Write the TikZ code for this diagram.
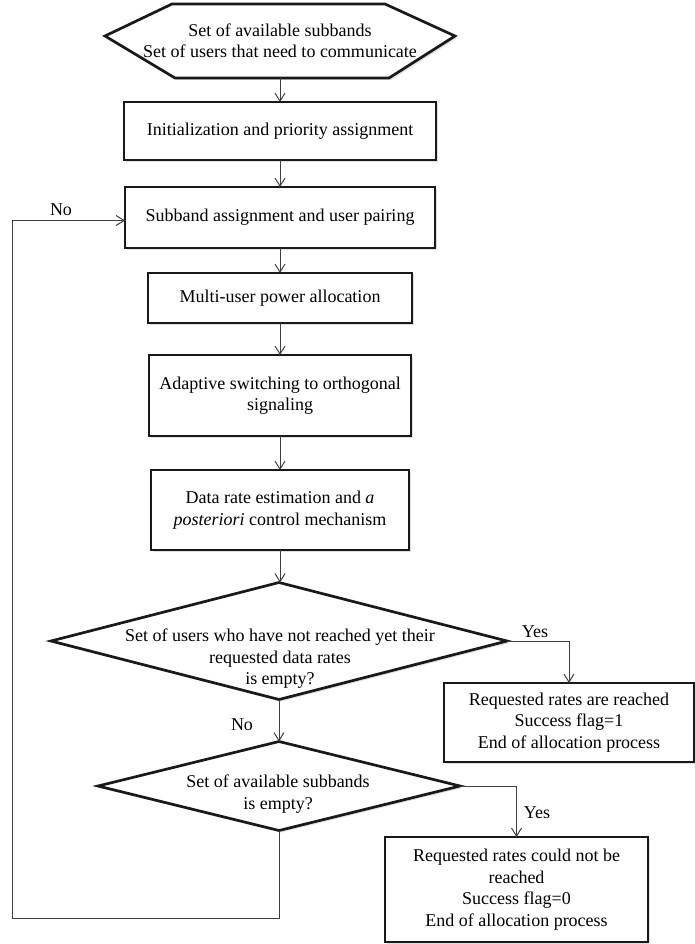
\documentclass[tikz,border=0pt]{standalone}
\usepackage{fontspec}
\setmainfont{Liberation Serif}
\usetikzlibrary{arrows.meta,shadows,backgrounds,shapes.geometric}

\begin{document}
\begin{tikzpicture}[x=1pt,y=-1pt,
  font=\fontsize{18}{21.5}\selectfont,
  every node/.style={inner sep=0pt, outer sep=0pt},
  frame/.style={line width=2.7pt, draw=black!90, fill=white,
    drop shadow={shadow xshift=2pt, shadow yshift=-2pt, opacity=0.25}},
  procbox/.style={frame, rectangle, align=center},
  decision/.style={frame, diamond},
  hexnode/.style={align=center, minimum width=350pt, minimum height=74pt},
  txt/.style={align=center},
  conn/.style={draw=black!75, line width=1pt,
    -{Straight Barb[length=8pt,width=10pt,line width=1pt]}}
]
\useasboundingbox (0,0) rectangle (695,944);

% start hexagon
\node[hexnode] (hex) at (280,41) {Set of available subbands\\Set of users that need to communicate};
\begin{scope}[on background layer]
\draw[frame] ([yshift=5pt]hex.west) -- ([xshift=67pt]hex.north west)
  -- ([xshift=-70pt]hex.north east) -- ([yshift=5pt]hex.east)
  -- ([xshift=-66pt]hex.south east) -- ([xshift=70pt]hex.south west) -- cycle;
\end{scope}

% process boxes
\node[procbox, minimum width=312pt, minimum height=58pt] (init) at (280,131)
  {Initialization and priority assignment};
\node[procbox, minimum width=310pt, minimum height=61pt] (assign) at (280,217.5)
  {Subband assignment and user pairing};
\node[procbox, minimum width=264pt, minimum height=50pt] (power) at (280,298)
  {Multi-user power allocation};
\node[procbox, minimum width=262pt, minimum height=81pt] (adapt) at (280,395.5)
  {Adaptive switching to orthogonal\\signaling};
\node[procbox, minimum width=258pt, minimum height=80pt] (rate) at (280,510)
  {Data rate estimation and \textit{a}\\\textit{posteriori} control mechanism};

% decisions
\node[decision, minimum width=456pt, minimum height=117pt] (d1) at (279,641) {};
\node[txt] (d1t) at (280,659)
  {Set of users who have not reached yet their\\requested data rates\\is empty?};
\node[decision, minimum width=362pt, minimum height=89pt] (d2) at (279,786) {};
\node[txt] (d2t) at (278,794) {Set of available subbands\\is empty?};

% end boxes
\node[procbox, minimum width=250pt, minimum height=79pt] (r1) at (569,722.5)
  {Requested rates are reached\\Success flag=1\\End of allocation process};
\node[procbox, minimum width=263pt, minimum height=105pt] (r2) at (516.5,889.5)
  {Requested rates could not be\\reached\\Success flag=0\\End of allocation process};

% labels
\node (no1) at (61,210) {No};
\node (no2) at (242,725) {No};
\node (yes1) at (535,632) {Yes};
\node (yes2) at (537,813) {Yes};

% connectors
\draw[conn] (hex.south) -- (hex.south |- init.north);
\draw[conn] (init.south) -- (init.south |- assign.north);
\draw[conn] (assign.south) -- (assign.south |- power.north);
\draw[conn] (power.south) -- (power.south |- adapt.north);
\draw[conn] (adapt.south) -- (adapt.south |- rate.north);
\draw[conn] (rate.south) -- (rate.south |- d1.north);
\draw[conn] (d1.south) -- (d2.north);
\draw[conn] (d1.east) -| (r1.north);
\draw[conn] (d2.east) -| (r2.north);
\coordinate (lb) at (12,918);
\draw[conn] (d2.south) |- (lb) |- ([yshift=-3pt]assign.west);
\end{tikzpicture}
\end{document}
